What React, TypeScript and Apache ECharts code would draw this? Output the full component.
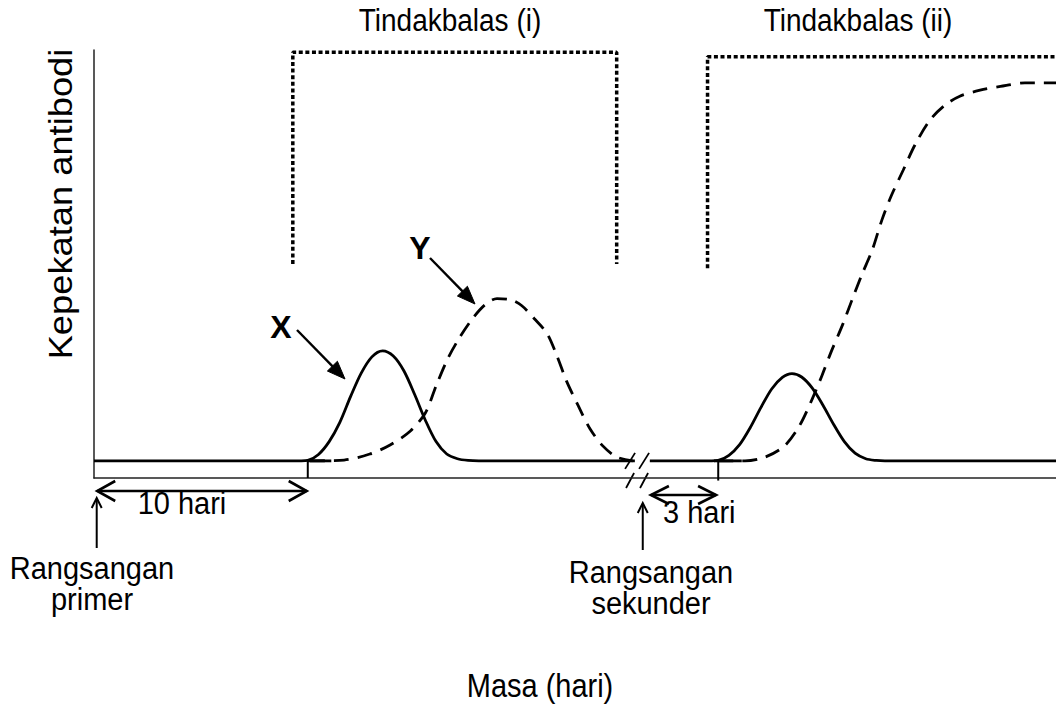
import React, { useEffect, useRef } from "react";
import * as echarts from "echarts";

const FONT = "'Liberation Sans', Arial, Helvetica, sans-serif";

// ---- axis ranges (days on x, relative antibody level on y) ----
const X_MAX = 45;
const Y_MAX = 100;

// ---- primary response ----
const primaryX: [number, number][] = [
  [0, 4], [9.7, 4], [10, 4.1], [10.5, 5.5], [11, 8.5], [11.5, 13], [12, 19], [12.5, 24.5],
  [13, 28.3], [13.5, 29.7], [14, 28.5], [14.5, 25], [15, 19.5], [15.5, 13.5], [16, 8.5],
  [16.5, 5.6], [17, 4.5], [17.5, 4.1], [18, 4], [25.3, 4],
];
const primaryY: [number, number][] = [
  [10.1, 4], [11.7, 4.2], [12.9, 5.6], [13.85, 7.7], [14.8, 11], [15.5, 15.2], [16, 21.5],
  [16.55, 27.9], [17.1, 32.8], [17.7, 37.2], [18.3, 40.5], [18.85, 41.9], [19.45, 41.7],
  [20, 40.3], [20.6, 37.2], [21.2, 33.7], [21.65, 28.6], [22.1, 22.7], [22.65, 16.9],
  [23.2, 11.5], [23.8, 7.5], [24.45, 4.9], [25.2, 4],
];

// ---- secondary response ----
const secondaryX: [number, number][] = [
  [26, 4], [28.9, 4], [29.2, 4.1], [29.7, 5.3], [30.2, 7.8], [30.7, 11.8], [31.2, 16.5],
  [31.7, 20.8], [32.2, 23.5], [32.65, 24.4], [33.1, 23.6], [33.6, 21], [34.1, 17], [34.6, 12.5],
  [35.1, 8.5], [35.6, 5.8], [36.1, 4.5], [36.6, 4.1], [37, 4], [45, 4],
];
const secondaryY: [number, number][] = [
  [29.2, 4], [30.45, 4], [31.4, 4.9], [32.3, 7.5], [33, 12.2], [33.6, 18.5], [34.05, 23.9],
  [34.5, 29.7], [35, 35.6], [35.45, 41.5], [35.9, 47.3], [36.4, 53.2], [36.85, 60.2],
  [37.3, 66], [37.85, 71.9], [38.4, 77.8], [39.1, 83.6], [39.8, 87.1], [40.5, 89.2],
  [41.45, 90.6], [42.4, 91.5], [43.55, 92.3], [45, 92.3],
];

// ---- baseline stubs, ticks and response brackets ----
const baselineStub1: [number, number][] = [[10, 4], [11.1, 4]];
const baselineStub2: [number, number][] = [[29, 4], [30.3, 4]];
const tick1: [number, number][] = [[10, 0], [10, 4]];
const tick2: [number, number][] = [[29.2, -0.6], [29.2, 4]];
const bracket1: [number, number][] = [[9.3, 50], [9.3, 99.5], [24.45, 99.5], [24.45, 50]];
const bracket2: [number, number][] = [[28.7, 49], [28.7, 98.4], [45, 98.4]];

// ---- annotation anchors (data coords) ----
const PRIMARY_STIM = 0.15;
const SECONDARY_STIM = 25.95;
const TEN_DAYS = [PRIMARY_STIM, 9.95];
const THREE_DAYS = [26.05, 29.1];
const BREAK_X = 25.45;

// ---- texts ----
const TITLE_1 = "Tindakbalas (i)";
const TITLE_2 = "Tindakbalas (ii)";
const Y_TITLE = "Kepekatan antibodi";
const X_TITLE = "Masa (hari)";

const DASH = [15, 9];
const DOT = [4, 2.6];

const line = (data: [number, number][], type: any, width = 2.8, smooth: number | boolean = 0.3) => ({
  type: "line",
  data,
  symbol: "none",
  smooth,
  silent: true,
  clip: false,
  lineStyle: { color: "#000", width, type, cap: "butt" },
});

export default function App() {
  const ref = useRef<HTMLDivElement>(null);
  useEffect(() => {
    const chart = echarts.init(ref.current!, null, { renderer: "svg" });
    chart.setOption({
      animation: false,
      backgroundColor: "#fff",
      grid: { left: 94, right: 0, top: 50, bottom: 230 },
      xAxis: {
        type: "value", min: 0, max: X_MAX,
        axisLine: { show: true, onZero: false, lineStyle: { color: "#222", width: 1.5 } },
        axisTick: { show: false }, axisLabel: { show: false }, splitLine: { show: false },
      },
      yAxis: {
        type: "value", min: 0, max: Y_MAX,
        axisLine: { show: true, onZero: false, lineStyle: { color: "#222", width: 1.5 } },
        axisTick: { show: false }, axisLabel: { show: false }, splitLine: { show: false },
      },
      series: [
        line(primaryX, "solid"),
        line(primaryY, DASH),
        line(secondaryX, "solid"),
        line(secondaryY, DASH),
        line(baselineStub1, "solid", 2.8, false),
        line(baselineStub2, "solid", 2.8, false),
        line(tick1, "solid", 2, false),
        line(tick2, "solid", 2, false),
        line(bracket1, DOT, 3.5, false),
        line(bracket2, DOT, 3.5, false),
      ],
    });

    const p = (x: number, y: number) => chart.convertToPixel({ gridIndex: 0 }, [x, y]) as number[];
    const poly = (pts: number[][], w = 2.5) => ({
      type: "polyline", silent: true, shape: { points: pts },
      style: { stroke: "#000", fill: null as any, lineWidth: w, lineJoin: "miter" },
    });
    const seg = (x1: number, y1: number, x2: number, y2: number, w = 2.5) => ({
      type: "line", silent: true, shape: { x1, y1, x2, y2 },
      style: { stroke: "#000", lineWidth: w },
    });
    const txt = (text: string, x: number, y: number, size: number, o: any = {}) => ({
      type: "text", silent: true, x, y, rotation: o.rotation || 0,
      scaleX: o.sx || 1, scaleY: o.sy || 1,
      style: {
        text, fill: "#000",
        font: `${o.bold ? "bold " : ""}${size}px ${FONT}`,
        align: o.align || "center", verticalAlign: "middle",
        textAlign: o.align || "center", textVerticalAlign: "middle",
      },
    });
    // filled-head arrow
    const pointer = (x1: number, y1: number, x2: number, y2: number) => {
      const dx = x2 - x1, dy = y2 - y1, len = Math.hypot(dx, dy);
      const ux = dx / len, uy = dy / len, nx = -uy, ny = ux;
      const hl = 18, hw = 7;
      const bx = x2 - ux * hl, by = y2 - uy * hl;
      return [
        seg(x1, y1, bx + ux * 2, by + uy * 2, 2.4),
        {
          type: "polygon", silent: true,
          shape: { points: [[x2, y2], [bx + nx * hw, by + ny * hw], [bx - nx * hw, by - ny * hw]] },
          style: { fill: "#000", stroke: "#000", lineWidth: 1 },
        },
      ];
    };
    // double-headed open arrow
    const span = (xa: number, xb: number, y: number, hl = 18, hw = 10) => [
      seg(xa, y, xb, y, 2.6),
      poly([[xa + hl, y - hw], [xa, y], [xa + hl, y + hw]], 2.6),
      poly([[xb - hl, y - hw], [xb, y], [xb - hl, y + hw]], 2.6),
    ];
    // upward stimulus arrow
    const up = (x: number, yTop: number, yBot: number) => [
      seg(x, yBot, x, yTop + 1, 2),
      poly([[x - 5, yTop + 10], [x, yTop], [x + 5, yTop + 10]], 2),
    ];

    const axisY = p(0, 0)[1];
    const baseY = p(0, 4)[1];
    const tA = p(TEN_DAYS[0], 0)[0], tB = p(TEN_DAYS[1], 0)[0];
    const hA = p(THREE_DAYS[0], 0)[0], hB = p(THREE_DAYS[1], 0)[0];
    const s1 = p(PRIMARY_STIM, 0)[0] - 0.5, s2 = p(SECONDARY_STIM, 0)[0] - 6;
    const bx = p(BREAK_X, 0)[0];

    const slashes: any[] = [];
    [-8, 6].forEach((off) => {
      slashes.push({
        type: "line", silent: true,
        shape: { x1: bx + off - 4, y1: baseY + 4, x2: bx + off + 8, y2: baseY - 4 },
        style: { stroke: "#fff", lineWidth: 5 },
      });
    });
    [-8, 6].forEach((off) => {
      slashes.push(seg(bx + off - 5, baseY + 8, bx + off + 5, baseY - 8, 1.8));
      slashes.push(seg(bx + off - 4, axisY + 10, bx + off + 4, axisY - 5, 1.8));
    });

    chart.setOption({
      graphic: [
        ...slashes,
        txt(TITLE_1, 450, 20, 28, { sy: 1.1 }),
        txt(TITLE_2, 858, 20, 28, { sy: 1.1 }),
        txt(Y_TITLE, 61, 204, 33, { rotation: Math.PI / 2, sx: 1.1 }),
        txt(X_TITLE, 540, 686, 29, { sy: 1.12 }),
        txt("X", 281, 327, 32, { bold: true }),
        txt("Y", 420, 248, 32, { bold: true }),
        ...pointer(297, 330, 345, 379),
        ...pointer(430, 258, 475, 304),
        ...span(tA, tB, axisY + 13),
        txt("10 hari", 182, 503, 29, { sy: 1.05 }),
        ...span(hA, hB, axisY + 17, 18, 9),
        txt("3 hari", 663, 512, 29, { align: "left", sy: 1.05 }),
        ...up(s1, axisY + 20, axisY + 70),
        ...up(s2, axisY + 25, axisY + 72),
        txt("Rangsangan", 92, 568, 29, { sy: 1.05 }),
        txt("primer", 92, 599, 29, { sy: 1.05 }),
        txt("Rangsangan", 651, 572, 29, { sy: 1.05 }),
        txt("sekunder", 651, 603, 29, { sy: 1.05 }),
      ],
    });
    return () => chart.dispose();
  }, []);
  return (
    <div
      ref={ref}
      style={{ position: "fixed", left: 0, top: 0, width: 1056, height: 708, background: "#fff" }}
    />
  );
}
